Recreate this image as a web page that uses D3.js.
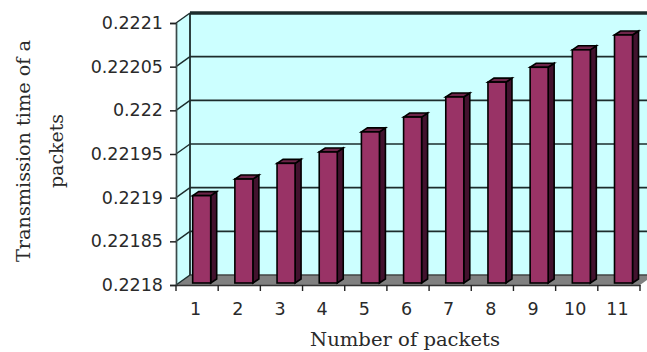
<!DOCTYPE html>
<html>
<head>
<meta charset="utf-8">
<script src="https://cdn.jsdelivr.net/npm/d3@7"></script>
<style>
  html, body { margin: 0; padding: 0; background: #fff; }
  svg { display: block; }
  .tick-label { font-family: "DejaVu Sans", sans-serif; font-size: 17.5px; fill: #2a2a2a; }
  .title { font-family: "DejaVu Serif", serif; font-size: 18px; fill: #2a2a2a; }
</style>
</head>
<body>
<svg id="chart" width="647" height="352"></svg>
<script>
// Transmission time per packet count
const categories = ["1", "2", "3", "4", "5", "6", "7", "8", "9", "10", "11"];
const transmissionTimes = [0.2219, 0.221919, 0.221937, 0.22195, 0.221973, 0.22199, 0.222013, 0.22203, 0.222047, 0.222067, 0.222084];
const yTickValues = [0.2218, 0.22185, 0.2219, 0.22195, 0.222, 0.22205, 0.2221];
const yTickLabels = ["0.2218", "0.22185", "0.2219", "0.22195", "0.222", "0.22205", "0.2221"];
const yTitleLines = ["Transmission time of a", "packets"];
const xTitle = "Number of packets";

const svg = d3.select("#chart");

// Front plane of the pseudo-3D box and the depth offset of its back wall
const plot = { left: 176, right: 640, top: 23, bottom: 285 };
const depth = { dx: 14, dy: -10 };
const barDepth = { dx: 6, dy: -4 };
const barShift = { dx: 4.6, dy: -2 };
const wallRight = 647;

const x = d3.scaleBand().domain(categories).range([plot.left, plot.right]).paddingInner(0.573).paddingOuter(0.2865);
const y = d3.scaleLinear().domain([0.2218, 0.2221]).range([plot.bottom, plot.top]);

const wallFill = "#CCFFFF";
const lineDark = "#1c2c2c";
const poly = pts => pts.map(p => p.join(",")).join(" ");

// Back wall, side wall and floor
svg.append("rect")
  .attr("x", plot.left + depth.dx).attr("y", plot.top + depth.dy)
  .attr("width", wallRight - plot.left - depth.dx)
  .attr("height", plot.bottom - plot.top)
  .attr("fill", wallFill);
svg.append("polygon")
  .attr("points", poly([
    [plot.left, plot.top], [plot.left + depth.dx, plot.top + depth.dy],
    [plot.left + depth.dx, plot.bottom + depth.dy], [plot.left, plot.bottom]
  ]))
  .attr("fill", wallFill);
svg.append("polygon")
  .attr("points", poly([
    [plot.left, plot.bottom], [plot.left + depth.dx, plot.bottom + depth.dy],
    [wallRight, plot.bottom + depth.dy], [wallRight, plot.bottom - 5], [plot.right, plot.bottom]
  ]))
  .attr("fill", "#808080");

// Gridlines on the back wall, continued down the side wall to the ticks
yTickValues.forEach(v => {
  const yy = y(v);
  svg.append("line")
    .attr("x1", plot.left + depth.dx).attr("x2", wallRight)
    .attr("y1", yy + depth.dy).attr("y2", yy + depth.dy)
    .attr("stroke", v === 0.2218 ? "#444" : lineDark)
    .attr("stroke-width", v === 0.2221 ? 3.4 : 1.7);
  svg.append("line")
    .attr("x1", plot.left).attr("x2", plot.left + depth.dx)
    .attr("y1", yy).attr("y2", yy + depth.dy)
    .attr("stroke", lineDark).attr("stroke-width", 1.4);
});
svg.append("line")
  .attr("x1", plot.left + depth.dx).attr("x2", plot.left + depth.dx)
  .attr("y1", plot.top + depth.dy).attr("y2", plot.bottom + depth.dy)
  .attr("stroke", lineDark).attr("stroke-width", 1.8);

// Left and bottom axes drawn on the front plane
const yAxis = d3.axisLeft(y).tickValues(yTickValues).tickSize(6).tickPadding(7)
  .tickFormat((d, i) => yTickLabels[i]);
const yAxisG = svg.append("g").attr("transform", `translate(${plot.left},0)`).call(yAxis);
yAxisG.select(".domain").attr("stroke", "#3a4a4a").attr("stroke-width", 1.7);
yAxisG.selectAll(".tick line").attr("stroke", "#222").attr("stroke-width", 1.5);
yAxisG.selectAll("text").attr("class", "tick-label").attr("font-family", null).attr("font-size", null).attr("fill", null);

const xAxis = d3.axisBottom(x).tickSize(0).tickPadding(18);
const xAxisG = svg.append("g").attr("transform", `translate(-1.5,${plot.bottom})`).call(xAxis);
xAxisG.select(".domain").attr("stroke", "#333").attr("stroke-width", 1.7).attr("transform", "translate(1.5,0)");
xAxisG.selectAll("text").attr("class", "tick-label").attr("font-family", null).attr("font-size", null).attr("fill", null);

// Tick marks sit between the categories
const step = x.step();
svg.append("g").selectAll("line").data(d3.range(categories.length + 1)).join("line")
  .attr("x1", i => plot.left + i * step).attr("x2", i => plot.left + i * step)
  .attr("y1", plot.bottom).attr("y2", plot.bottom + 6)
  .attr("stroke", "#222").attr("stroke-width", 1.4);

// Bars with front, side and top faces
const bars = svg.append("g").selectAll("g")
  .data(categories.map((c, i) => ({ c, v: transmissionTimes[i] })))
  .join("g")
  .attr("stroke", "#000").attr("stroke-width", 1.6).attr("stroke-linejoin", "miter");

const bw = x.bandwidth();
bars.append("polygon")
  .attr("fill", "#42122e")
  .attr("points", d => {
    const l = x(d.c) + barShift.dx + bw, t = y(d.v) + barShift.dy, b = plot.bottom + barShift.dy;
    return poly([[l, t], [l + barDepth.dx, t + barDepth.dy], [l + barDepth.dx, b + barDepth.dy], [l, b]]);
  });
bars.append("polygon")
  .attr("fill", "#6d2549")
  .attr("points", d => {
    const l = x(d.c) + barShift.dx, t = y(d.v) + barShift.dy;
    return poly([[l, t], [l + barDepth.dx, t + barDepth.dy], [l + bw + barDepth.dx, t + barDepth.dy], [l + bw, t]]);
  });
bars.append("rect")
  .attr("fill", "#993366")
  .attr("x", d => x(d.c) + barShift.dx)
  .attr("y", d => y(d.v) + barShift.dy)
  .attr("width", bw)
  .attr("height", d => plot.bottom - y(d.v));

// Axis titles
svg.append("text").attr("class", "title")
  .attr("x", 405).attr("y", 346).attr("text-anchor", "middle")
  .attr("textLength", 190).attr("lengthAdjust", "spacingAndGlyphs").text(xTitle);

const yTitleLengths = [222, 74];
const yTitle = svg.append("g").attr("transform", "translate(0,151) rotate(-90)");
yTitle.selectAll("text").data(yTitleLines).join("text")
  .attr("class", "title")
  .attr("text-anchor", "middle")
  .attr("x", 0)
  .attr("y", (d, i) => 30 + i * 33)
  .attr("textLength", (d, i) => yTitleLengths[i])
  .attr("lengthAdjust", "spacingAndGlyphs")
  .text(d => d);
</script>
</body>
</html>
